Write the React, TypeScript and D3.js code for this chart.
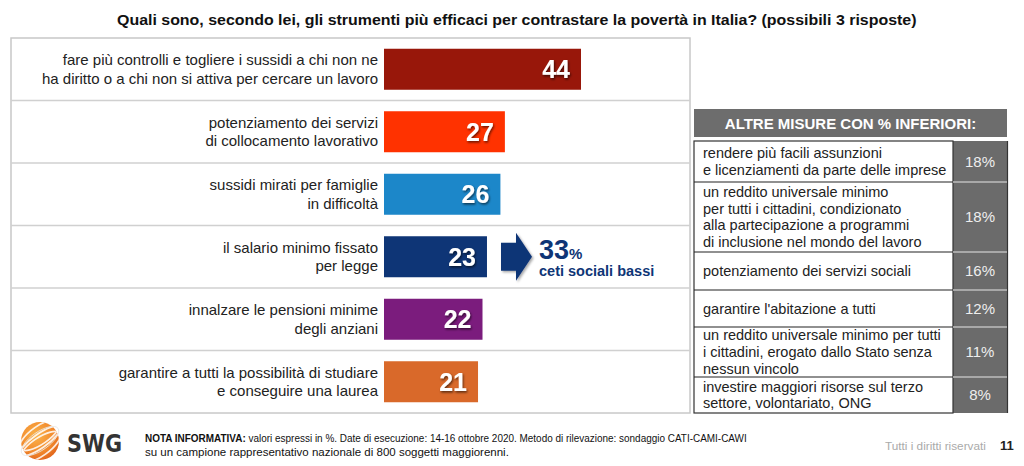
import React, { useLayoutEffect, useRef, useState } from "react";
import * as d3 from "d3";

const title =
  "Quali sono, secondo lei, gli strumenti più efficaci per contrastare la povertà in Italia? (possibili 3 risposte)";

const categories: string[][] = [
  ["fare più controlli e togliere i sussidi a chi non ne", "ha diritto o a chi non si attiva per cercare un lavoro"],
  ["potenziamento dei servizi", "di collocamento lavorativo"],
  ["sussidi mirati per famiglie", "in difficoltà"],
  ["il salario minimo fissato", "per legge"],
  ["innalzare le pensioni minime", "degli anziani"],
  ["garantire a tutti la possibilità di studiare", "e conseguire una laurea"],
];
const values = [44, 27, 26, 23, 22, 21];
const barColors = ["#98170a", "#ff3200", "#1c87c9", "#0e3576", "#7b1c7d", "#d9692a"];

const highlightIndex = 3;
const highlightValue = 33;
const highlightLabel = "ceti sociali bassi";

const otherHeader = "ALTRE MISURE CON % INFERIORI:";
const otherMeasures: string[][] = [
  ["rendere più facili assunzioni", "e licenziamenti da parte delle imprese"],
  ["un reddito universale minimo", "per tutti i cittadini, condizionato", "alla partecipazione a programmi", "di inclusione nel mondo del lavoro"],
  ["potenziamento dei servizi sociali"],
  ["garantire l'abitazione a tutti"],
  ["un reddito universale minimo per tutti", "i cittadini, erogato dallo Stato senza", "nessun vincolo"],
  ["investire maggiori risorse sul terzo", "settore, volontariato, ONG"],
];
const otherValues = [18, 18, 16, 12, 11, 8];

const noteBold = "NOTA INFORMATIVA:";
const noteLine1 =
  " valori espressi in %. Date di esecuzione: 14-16 ottobre 2020. Metodo di rilevazione: sondaggio CATI-CAMI-CAWI";
const noteLine2 = "su un campione rappresentativo nazionale di 800 soggetti maggiorenni.";
const rights = "Tutti i diritti riservati";
const pageNum = "11";

// layout
const W = 1024;
const H = 466;
const panel = { x: 11, y: 38, w: 679, h: 375 };
const barX0 = 384;
const barH = 41;
const tableX = 694;
const tableW = 313;
const tableTop = 141;
const pctColX = 953;
const rowHeights = [41, 70, 38, 37, 50, 36];
const FONT = "'Liberation Sans', Arial, Helvetica, sans-serif";

// Horizontally scales its text so that it spans `width` pixels from x.
function FitText(props: { x: number; y: number; width: number; children: React.ReactNode; [k: string]: any }) {
  const { x, y, width, children, ...rest } = props;
  const ref = useRef<SVGTextElement>(null);
  const [k, setK] = useState(1);
  useLayoutEffect(() => {
    if (ref.current) {
      const w = ref.current.getComputedTextLength();
      if (w > 0) setK(width / w);
    }
  }, [width]);
  return (
    <g transform={`translate(${x},${y}) scale(${k},1)`}>
      <text ref={ref} x={0} y={0} {...rest}>
        {children}
      </text>
    </g>
  );
}

export default function App() {
  const x = d3.scaleLinear().domain([0, 44]).range([barX0, 581]);
  const y = d3
    .scaleBand<number>()
    .domain(d3.range(categories.length))
    .range([panel.y, panel.y + panel.h]);
  const bw = y.bandwidth();

  const rowTops = d3.cumsum([0, ...rowHeights]).map((v) => tableTop + v);

  const hiY = (y(highlightIndex) as number) + bw / 2;
  const ax = 501;
  const arrowPath = d3.path();
  arrowPath.moveTo(ax, hiY - 14);
  arrowPath.lineTo(ax + 15, hiY - 14);
  arrowPath.lineTo(ax + 15, hiY - 24);
  arrowPath.lineTo(ax + 31, hiY);
  arrowPath.lineTo(ax + 15, hiY + 24);
  arrowPath.lineTo(ax + 15, hiY + 14);
  arrowPath.lineTo(ax, hiY + 14);
  arrowPath.closePath();

  return (
    <svg
      width={W}
      height={H}
      style={{ position: "absolute", left: 0, top: 0, background: "#fff" }}
      fontFamily={FONT}
    >
      <defs>
        <filter id="ts" x="-20%" y="-20%" width="140%" height="140%">
          <feDropShadow dx="1" dy="1.5" stdDeviation="0.8" floodColor="#000" floodOpacity="0.6" />
        </filter>
        <filter id="as" x="-20%" y="-20%" width="150%" height="150%">
          <feDropShadow dx="1.5" dy="1.5" stdDeviation="1" floodColor="#000" floodOpacity="0.35" />
        </filter>
        <radialGradient id="lg" cx="0.4" cy="0.35" r="0.75">
          <stop offset="0" stopColor="#fbb44c" />
          <stop offset="0.6" stopColor="#f28a2c" />
          <stop offset="1" stopColor="#dc5a17" />
        </radialGradient>
        <clipPath id="lc">
          <circle cx={40} cy={441} r={19} />
        </clipPath>
      </defs>

      {/* title */}
      <FitText x={117} y={25} width={800} fontWeight="bold" fontSize={15} fill="#111">
        {title}
      </FitText>

      {/* left panel */}
      <rect x={panel.x} y={panel.y} width={panel.w} height={panel.h} fill="#fff" stroke="#c8c8c8" strokeWidth={1.5} />
      {categories.map((_, i) =>
        i > 0 ? (
          <line
            key={"sep" + i}
            x1={panel.x}
            x2={panel.x + panel.w}
            y1={y(i) as number}
            y2={y(i) as number}
            stroke="#d0d0d0"
            strokeWidth={1.5}
          />
        ) : null
      )}
      {categories.map((lines, i) => {
        const cy = (y(i) as number) + bw / 2;
        return (
          <g key={"bar" + i}>
            <rect x={x(0)} y={cy - barH / 2} width={x(values[i]) - x(0)} height={barH} fill={barColors[i]} />
            {lines.map((ln, j) => (
              <text key={j} x={378} y={cy - 4 + j * 18.5} textAnchor="end" fontSize={15} fill="#222">
                {ln}
              </text>
            ))}
            <text
              x={x(values[i]) - 11}
              y={cy + 9}
              textAnchor="end"
              fontSize={25}
              fontWeight="bold"
              fill="#fff"
              filter="url(#ts)"
            >
              {values[i]}
            </text>
          </g>
        );
      })}

      {/* highlight arrow */}
      <path d={arrowPath.toString()} fill="#0e3576" filter="url(#as)" />
      <text x={539} y={hiY + 2} fill="#0e3576" fontWeight="bold">
        <tspan fontSize={27}>{highlightValue}</tspan>
        <tspan fontSize={15}>%</tspan>
      </text>
      <text x={539} y={hiY + 19} fill="#0e3576" fontWeight="bold" fontSize={14.5}>
        {highlightLabel}
      </text>

      {/* right panel */}
      <rect x={tableX} y={109} width={tableW} height={28} fill="#6d6d6d" />
      <text x={tableX + tableW / 2} y={128.5} textAnchor="middle" fontSize={15} fontWeight="bold" fill="#fff">
        {otherHeader}
      </text>
      <rect x={pctColX} y={tableTop} width={tableX + tableW - pctColX} height={rowTops[rowTops.length - 1] - tableTop} fill="#6b6b6b" />
      <rect x={tableX} y={tableTop} width={pctColX - tableX} height={rowTops[rowTops.length - 1] - tableTop} fill="#fff" stroke="#333" strokeWidth={1.2} />
      <line x1={tableX + tableW + 0.5} x2={tableX + tableW + 0.5} y1={tableTop} y2={413} stroke="#333" strokeWidth={1.2} />
      {otherMeasures.map((lines, i) => {
        const top = rowTops[i];
        const bot = rowTops[i + 1];
        const cy = (top + bot) / 2;
        const lh = 16.8;
        const first = cy - ((lines.length - 1) * lh) / 2 + 5;
        return (
          <g key={"row" + i}>
            {i > 0 && (
              <>
                <line x1={tableX} x2={pctColX} y1={top} y2={top} stroke="#222" strokeWidth={1.2} />
                <line x1={pctColX} x2={tableX + tableW} y1={top} y2={top} stroke="#bdbdbd" strokeWidth={1.5} />
              </>
            )}
            {lines.map((ln, j) => (
              <text key={j} x={703} y={first + j * lh} fontSize={14.5} fill="#222">
                {ln}
              </text>
            ))}
            <text x={(pctColX + tableX + tableW) / 2} y={cy + 5} textAnchor="middle" fontSize={15} fill="#eee">
              {otherValues[i] + "%"}
            </text>
          </g>
        );
      })}

      {/* footer logo */}
      <circle cx={40} cy={441} r={19} fill="url(#lg)" />
      <g clipPath="url(#lc)" fill="none" stroke="#fff" strokeWidth={1.8} opacity={0.85}>
        <ellipse cx={40} cy={441} rx={24} ry={7} transform="rotate(-35 40 441)" />
        <ellipse cx={40} cy={447} rx={24} ry={9} transform="rotate(-35 40 447)" />
        <ellipse cx={40} cy={435} rx={24} ry={9} transform="rotate(-35 40 435)" />
      </g>
      <ellipse cx={40} cy={441} rx={22} ry={9} transform="rotate(-35 40 441)" fill="none" stroke="#e6e6e6" strokeWidth={0.8} />
      <FitText x={67} y={452} width={55} fontSize={25} fontWeight="bold" fill="#333" fontFamily="'DejaVu Sans', sans-serif">
        SWG
      </FitText>

      <FitText x={145} y={442} width={602} fontSize={11.5} fill="#111">
        <tspan fontWeight="bold">{noteBold}</tspan>
        {noteLine1}
      </FitText>
      <FitText x={145} y={456} width={364} fontSize={11.5} fill="#111">
        {noteLine2}
      </FitText>
      <FitText x={885} y={450} width={101} fontSize={11.5} fill="#aaa">
        {rights}
      </FitText>
      <text x={1000} y={450} fontSize={13} fontWeight="bold" fill="#222">
        {pageNum}
      </text>
    </svg>
  );
}
